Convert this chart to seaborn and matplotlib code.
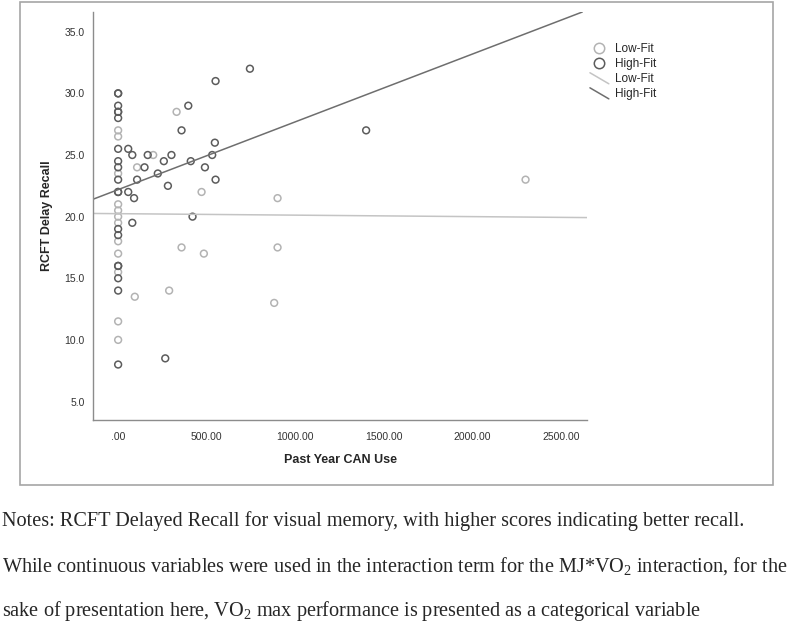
import numpy as np
import pandas as pd
import matplotlib
matplotlib.use("Agg")
import matplotlib.pyplot as plt
import seaborn as sns
from matplotlib.lines import Line2D
from matplotlib.patches import Rectangle
from matplotlib.legend_handler import HandlerBase

# points
low_use = [0, 0, 0, 0, 0, 0, 0, 0, 0, 0, 0, 0,
           330, 198, 107, 471, 900, 358, 484, 900, 94, 288, 881, 2300]
low_recall = [27.0, 26.5, 23.5, 21.0, 20.5, 20.0, 19.5, 18.0, 17.0, 15.5, 11.5, 10.0,
              28.5, 25.0, 24.0, 22.0, 21.5, 17.5, 17.0, 17.5, 13.5, 14.0, 13.0, 23.0]

high_use = [0, 0, 0, 0, 0, 0, 0, 0, 0, 0, 0, 0, 0, 0, 0, 0, 0, 0, 0,
            744, 550, 396, 358, 546, 57, 80, 167, 301, 531, 258, 410, 149, 490,
            224, 107, 550, 281, 57, 90, 420, 80, 266, 1400]
high_recall = [30.0, 30.0, 29.0, 28.5, 28.5, 28.0, 25.5, 24.5, 24.0, 23.0, 22.0, 22.0,
               19.0, 18.5, 16.0, 16.0, 15.0, 14.0, 8.0,
               32.0, 31.0, 29.0, 27.0, 26.0, 25.5, 25.0, 25.0, 25.0, 25.0, 24.5, 24.5,
               24.0, 24.0, 23.5, 23.0, 23.0, 22.5, 22.0, 21.5, 20.0, 19.5, 8.5, 27.0]

groups = ["Low-Fit", "High-Fit"]
fit_intercept = [20.24, 22.19]
fit_slope = [-0.00012, 0.0055]

x_ticks = [0, 500, 1000, 1500, 2000, 2500]
x_tick_labels = [".00", "500.00", "1000.00", "1500.00", "2000.00", "2500.00"]
y_ticks = [5, 10, 15, 20, 25, 30, 35]
y_tick_labels = ["5.0", "10.0", "15.0", "20.0", "25.0", "30.0", "35.0"]

notes = [
    "Notes: RCFT Delayed Recall for visual memory, with higher scores indicating better recall.",
    r"While continuous variables were used in the interaction term for the MJ*VO$_\mathregular{2}$ interaction, for the",
    r"sake of presentation here, VO$_\mathregular{2}$ max performance is presented as a categorical variable",
]

df = pd.DataFrame({
    "use": low_use + high_use,
    "recall": low_recall + high_recall,
    "group": ["Low-Fit"] * len(low_use) + ["High-Fit"] * len(high_use),
})


# SPSS draws the fit-line legend keys as short diagonals
class DiagHandler(HandlerBase):
    def create_artists(self, legend, orig_handle, xdescent, ydescent,
                       width, height, fontsize, trans):
        ln = Line2D([-xdescent, width - xdescent], [height - ydescent + 1, -ydescent - 1],
                    color=orig_handle.get_color(), lw=orig_handle.get_linewidth())
        ln.set_transform(trans)
        return [ln]


sns.set_style("white")
plt.rcParams["font.family"] = ["Liberation Sans", "DejaVu Sans"]
plt.rcParams["mathtext.fontset"] = "custom"
plt.rcParams["mathtext.rm"] = "Liberation Serif"

point_colors = {"Low-Fit": "#b3b3b3", "High-Fit": "#5c5c5c"}
line_colors = {"Low-Fit": "#c4c4c4", "High-Fit": "#6e6e6e"}

fig = plt.figure(figsize=(8, 6.33), dpi=100)
ax = fig.add_axes([0.116, 0.3365, 0.618, 0.6445])

for g in groups:
    sub = df[df["group"] == g]
    sns.scatterplot(data=sub, x="use", y="recall", ax=ax, s=24,
                    facecolors="none", edgecolor=point_colors[g], linewidth=1.1)

for g, b, m in zip(groups, fit_intercept, fit_slope):
    ax.axline((0, b), slope=m, color=line_colors[g], lw=1.1, zorder=1)

ax.set_xlim(-143, 2648)
ax.set_ylim(3.5, 36.6)
ax.set_xticks(x_ticks)
ax.set_xticklabels(x_tick_labels)
ax.set_yticks(y_ticks)
ax.set_yticklabels(y_tick_labels)
ax.tick_params(length=0, labelsize=7.5, colors="#333333")
ax.tick_params(axis="y", pad=6)
ax.tick_params(axis="x", pad=9)

for s in ["top", "right"]:
    ax.spines[s].set_visible(False)
for s in ["left", "bottom"]:
    ax.spines[s].set_color("#8c8c8c")
    ax.spines[s].set_linewidth(1.0)

ax.set_xlabel("Past Year CAN Use", fontsize=9, fontweight="bold", labelpad=8)
ax.set_ylabel("RCFT Delay Recall", fontsize=9, fontweight="bold", labelpad=8)

handles = [
    Line2D([], [], ls="none", marker="o", mfc="none", mec=point_colors["Low-Fit"], ms=7.5, mew=1.1),
    Line2D([], [], ls="none", marker="o", mfc="none", mec=point_colors["High-Fit"], ms=7.5, mew=1.1),
    Line2D([], [], color=line_colors["Low-Fit"], lw=1.1),
    Line2D([], [], color=line_colors["High-Fit"], lw=1.1),
]
ax.legend(handles, groups + groups, loc="upper left", bbox_to_anchor=(0.996, 0.935),
          frameon=False, fontsize=8.5, handlelength=1.6, handletextpad=0.5,
          labelspacing=0.26, borderaxespad=0,
          handler_map={handles[2]: DiagHandler(), handles[3]: DiagHandler()})

# panel frame around the chart
fig.patches.append(Rectangle((20 / 800, 1 - 485 / 633), 753 / 800, 483 / 633,
                             transform=fig.transFigure, fill=False,
                             edgecolor="#a6a6a6", lw=1.2))

for i, line in enumerate(notes):
    fig.text(0.003, 1 - (521 + 45 * i) / 633, line, family="Liberation Serif",
             fontsize=14.6, va="center", ha="left")

fig.savefig("out.png", dpi=100)
